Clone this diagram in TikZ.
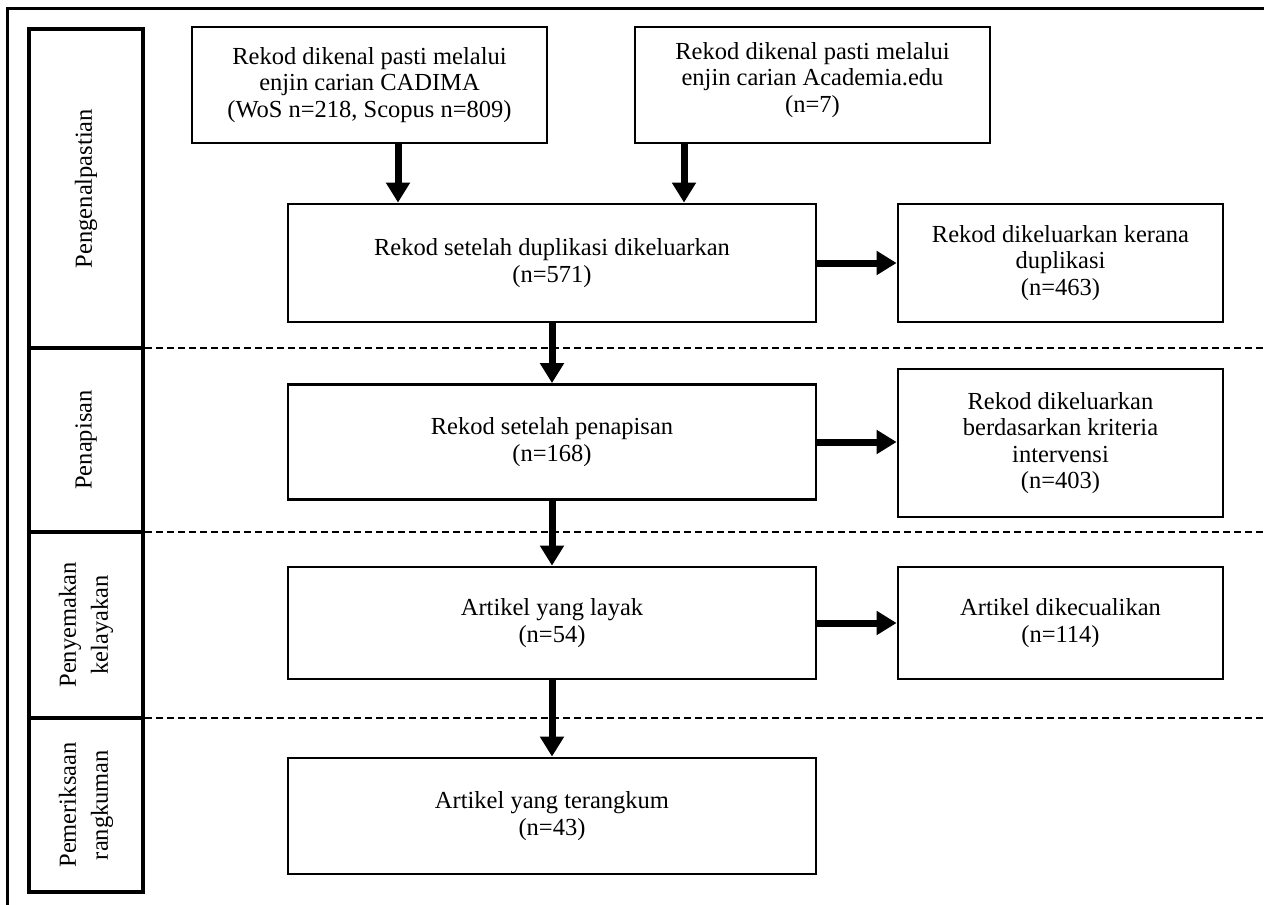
\documentclass[tikz,border=0pt]{standalone}
\usepackage{fontspec}
\setmainfont{Liberation Serif}
\usetikzlibrary{arrows.meta}
\begin{document}
\begin{tikzpicture}[x=1pt,y=-1pt,
  box/.style={draw, line width=2.8pt, inner sep=0pt, align=center,
    font=\fontsize{24.5}{26.5}\selectfont},
  plain/.style={inner sep=0pt, align=center, font=\fontsize{24.5}{26.5}\selectfont},
  cell/.style={draw, line width=3.2pt, inner sep=0pt, align=center, rotate=90,
    minimum height=114pt, font=\fontsize{24.5}{32}\selectfont},
  arr/.style={line width=7pt, -{Triangle[length=20pt,width=23pt]}},
  sep/.style={line width=1.2pt, dash pattern=on 7pt off 4pt},
  frame/.style={line width=3pt}]
\useasboundingbox (0,0) rectangle (1264,905);
% outer frame
\coordinate (f0) at (7,912);
\coordinate (f1) at (7,8);
\coordinate (f2) at (1270,8);
\draw[frame] (f0) -- (f1) -- (f2);
% left column
\node[cell, minimum width=319pt] (L1) at (86,188.5) {Pengenalpastian};
\node[cell, minimum width=184pt] (L2) at (86,440) {Penapisan};
\node[cell, minimum width=186pt] (L3) at (86,625) {Penyemakan\\kelayakan};
\node[cell, minimum width=174pt] (L4) at (86,805) {Pemeriksaan\\rangkuman};
% dashed separators
\coordinate (s1) at (145,348);  \coordinate (e1) at (1264,348);
\coordinate (s2) at (145,532);  \coordinate (e2) at (1264,532);
\coordinate (s3) at (145,718);  \coordinate (e3) at (1264,718);
\draw[sep] (s1) -- (e1);
\draw[sep] (s2) -- (e2);
\draw[sep] (s3) -- (e3);
% boxes
\node[box, minimum width=355pt, minimum height=116pt] (A) at (369.5,85)
  {Rekod dikenal pasti melalui\\enjin carian CADIMA\\(WoS n=218, Scopus n=809)};
\node[box, minimum width=355pt, minimum height=116pt] (B) at (812.5,85) {};
\node[plain] (Bt) at (812.5,80)
  {Rekod dikenal pasti melalui\\enjin carian Academia.edu\\(n=7)};
\node[box, minimum width=528pt, minimum height=118pt] (C) at (552,263)
  {Rekod setelah duplikasi dikeluarkan\\(n=571)};
\node[box, minimum width=325pt, minimum height=118pt] (D) at (1060.5,263)
  {Rekod dikeluarkan kerana\\duplikasi\\(n=463)};
\node[box, minimum width=528pt, minimum height=115pt] (E) at (552,442)
  {Rekod setelah penapisan\\(n=168)};
\node[box, minimum width=325pt, minimum height=148pt] (F) at (1060.5,443)
  {Rekod dikeluarkan\\berdasarkan kriteria\\intervensi\\(n=403)};
\node[box, minimum width=528pt, minimum height=112pt] (G) at (552,623)
  {Artikel yang layak\\(n=54)};
\node[box, minimum width=325pt, minimum height=112pt] (H) at (1060.5,623)
  {Artikel dikecualikan\\(n=114)};
\node[box, minimum width=528pt, minimum height=116pt] (I) at (552,816)
  {Artikel yang terangkum\\(n=43)};
% arrows
\draw[arr] ([xshift=28.5pt]A.south) -- ([xshift=28.5pt]A.south |- C.north);
\draw[arr] ([xshift=-128.5pt]B.south) -- ([xshift=-128.5pt]B.south |- C.north);
\draw[arr] (C.south) -- (E.north);
\draw[arr] (E.south) -- (G.north);
\draw[arr] (G.south) -- (I.north);
\draw[arr] (C.east) -- (C.east -| D.west);
\draw[arr] (E.east) -- (E.east -| F.west);
\draw[arr] (G.east) -- (G.east -| H.west);
\end{tikzpicture}
\end{document}
